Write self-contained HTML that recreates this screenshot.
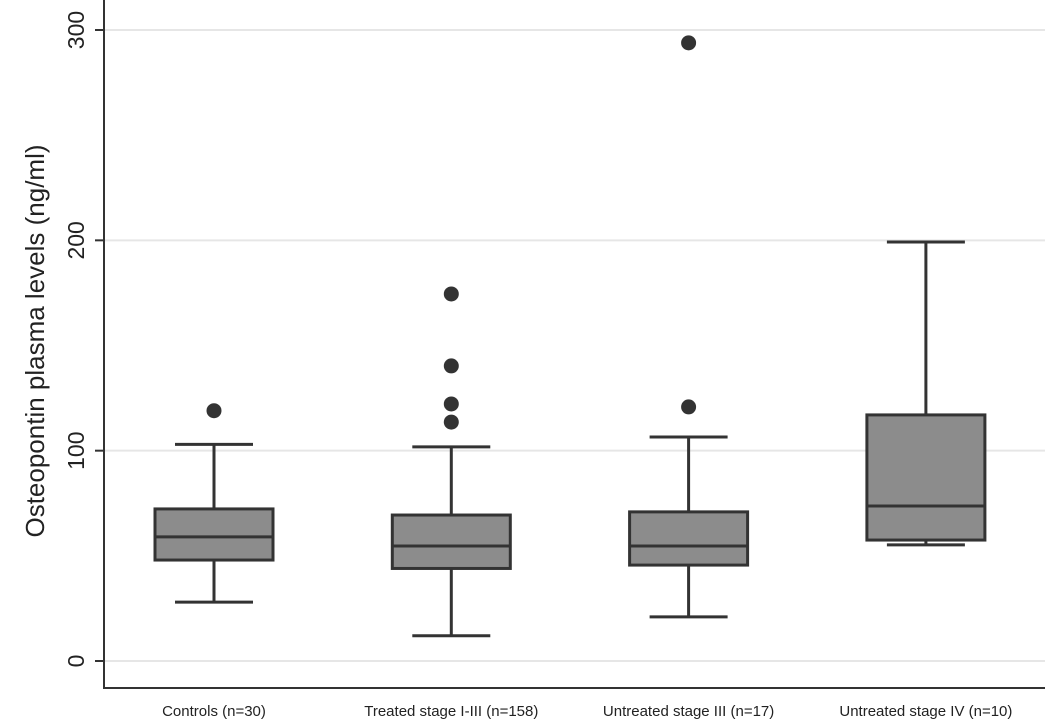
<!DOCTYPE html>
<html><head><meta charset="utf-8"><style>
body{margin:0;background:#fff;}
svg{display:block;font-family:"Liberation Sans",sans-serif;}
</style></head><body>
<svg id="chart" width="1045" height="722"></svg>
<script>
const categories=["Controls (n=30)","Treated stage I-III (n=158)","Untreated stage III (n=17)","Untreated stage IV (n=10)"];
const whiskerLow=[28,12,21,55.2];
const q1=[48,44,45.6,57.5];
const medians=[59,54.7,54.7,73.7];
const q3=[72.3,69.4,70.9,117];
const whiskerHigh=[103,101.8,106.5,199.2];
const outliers=[[119],[174.5,140.3,122.2,113.6],[293.9,120.8],[]];
const yTicks=[0,100,200,300];

const NS="http://www.w3.org/2000/svg";
const svg=document.getElementById('chart');
function y(v){return 661-v*2.1033;}
function x(i){return 214+i*237.3;}
function mk(t,a,p){const e=document.createElementNS(NS,t);for(const k in a)e.setAttribute(k,a[k]);(p||svg).appendChild(e);return e;}
yTicks.forEach(t=>{
 const g=mk('line',{x1:105,x2:1045,y1:y(t),y2:y(t),stroke:'#e6e6e6','stroke-width':2});
 
 
 const tk=mk('line',{x1:95,x2:104,y1:y(t),y2:y(t),stroke:'#333','stroke-width':2});
 
 
 const tx=mk('text',{x:0,y:0,'font-size':23,fill:'#222','text-anchor':'middle',transform:`translate(84,${y(t)}) rotate(-90)`});
 tx.textContent=t;
 
 
});
const ax=mk('path',{d:'M104,0 V688 H1045',fill:'none',stroke:'#333','stroke-width':2});


const yt=mk('text',{x:0,y:0,'font-size':26,fill:'#222','text-anchor':'middle',transform:'translate(44,341) rotate(-90)'});
yt.textContent='Osteopontin plasma levels (ng/ml)';


categories.forEach((c,i)=>{
 const cx=x(i),hw=59;
 const g=mk('g',{});
 
 
 mk('line',{x1:cx,x2:cx,y1:y(whiskerLow[i]),y2:y(q1[i]),stroke:'#333','stroke-width':3},g);
 mk('line',{x1:cx,x2:cx,y1:y(q3[i]),y2:y(whiskerHigh[i]),stroke:'#333','stroke-width':3},g);
 mk('line',{x1:cx-39,x2:cx+39,y1:y(whiskerLow[i]),y2:y(whiskerLow[i]),stroke:'#333','stroke-width':3},g);
 mk('line',{x1:cx-39,x2:cx+39,y1:y(whiskerHigh[i]),y2:y(whiskerHigh[i]),stroke:'#333','stroke-width':3},g);
 const b=mk('rect',{x:cx-hw,y:y(q3[i]),width:2*hw,height:y(q1[i])-y(q3[i]),fill:'#8c8c8c',stroke:'#333','stroke-width':3},g);
 
 
 mk('line',{x1:cx-hw,x2:cx+hw,y1:y(medians[i]),y2:y(medians[i]),stroke:'#333','stroke-width':3},g);
 outliers[i].forEach(o=>{
  const d=mk('circle',{cx:cx,cy:y(o),r:7.5,fill:'#333'},g);
  
  
 });
 const l=mk('text',{x:cx,y:716,'font-size':15,fill:'#222','text-anchor':'middle'});
 l.textContent=c;
 
 
});
</script>
</body></html>
